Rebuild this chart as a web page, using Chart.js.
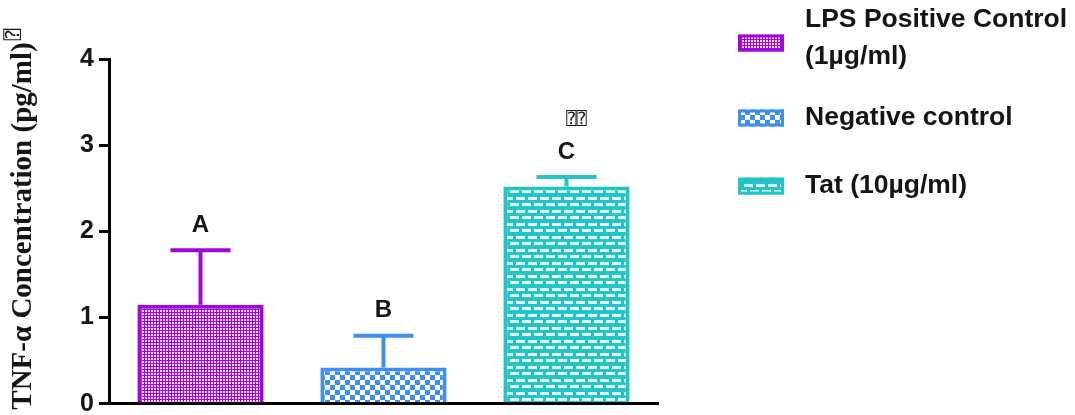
<!DOCTYPE html>
<html>
<head>
<meta charset="utf-8">
<script src="https://cdn.jsdelivr.net/npm/chart.js@4.4.1/dist/chart.umd.min.js"></script>
<style>
  html, body { margin: 0; padding: 0; background: #ffffff; }
  #wrap { width: 1075px; height: 415px; }
</style>
</head>
<body>
<div id="wrap"><canvas id="c" width="1075" height="415"></canvas></div>
<script>
// Groups and measured TNF-α levels (mean with upward SD bar)
const categories = ['LPS Positive Control (1µg/ml)', 'Negative control', 'Tat (10µg/ml)'];
const legendLines = [['LPS Positive Control', '(1µg/ml)'], ['Negative control'], ['Tat (10µg/ml)']];
const means = [1.15, 0.42, 2.52];
const sdUp = [0.63, 0.37, 0.11];
const groupLetters = ['A', 'B', 'C'];
const yTicks = [0, 1, 2, 3, 4];
const yTitle = 'TNF-α Concentration (pg/ml)';
const missingMark = '\u2370';

const colors = ['#9e08de', '#3f8ef0', '#22c4c4'];

// Fill textures for each group
function makePattern(kind, color) {
  const t = document.createElement('canvas');
  const g = t.getContext('2d');
  if (kind === 'dots') {
    t.width = 3; t.height = 3;
    g.fillStyle = color; g.fillRect(0, 0, 3, 3);
    g.fillStyle = '#f4d6ff'; g.fillRect(1, 1, 2, 2);
  } else if (kind === 'checker') {
    t.width = 10; t.height = 10;
    g.fillStyle = color; g.fillRect(0, 0, 10, 10);
    g.fillStyle = '#ffffff';
    g.fillRect(0, 0, 5, 5); g.fillRect(5, 5, 5, 5);
  } else {
    t.width = 12; t.height = 13;
    g.fillStyle = color; g.fillRect(0, 0, 12, 13);
    g.fillStyle = '#e6ffff';
    g.fillRect(0, 2, 9, 3);
    g.fillRect(6, 8, 6, 3); g.fillRect(0, 8, 3, 3);
  }
  return document.getElementById('c').getContext('2d').createPattern(t, 'repeat');
}
const fills = [makePattern('dots', colors[0]), makePattern('checker', colors[1]), makePattern('bricks', colors[2])];

const ink = '#151515';

const decorations = {
  id: 'decorations',
  afterDatasetsDraw(chart) {
    const ctx = chart.ctx;
    const y = chart.scales.y;
    const meta = chart.getDatasetMeta(0);
    ctx.save();
    meta.data.forEach((bar, i) => {
      const top = y.getPixelForValue(means[i]);
      const cap = y.getPixelForValue(means[i] + sdUp[i]);
      ctx.strokeStyle = colors[i];
      ctx.lineWidth = 4;
      ctx.beginPath();
      ctx.moveTo(bar.x, top);
      ctx.lineTo(bar.x, cap);
      ctx.moveTo(bar.x - 30, cap);
      ctx.lineTo(bar.x + 30, cap);
      ctx.stroke();
      ctx.fillStyle = ink;
      ctx.font = 'bold 24px "Liberation Sans", Arial, sans-serif';
      ctx.textAlign = 'center';
      ctx.textBaseline = 'middle';
      ctx.fillText(groupLetters[i], bar.x, cap - 25);
      if (i === 2) {
        ctx.font = '17px "DejaVu Sans Mono", "DejaVu Sans", sans-serif';
        ctx.fillText(missingMark + missingMark, bar.x + 10, cap - 57);
      }
    });
    ctx.restore();
  },
  afterDraw(chart) {
    const ctx = chart.ctx;
    ctx.save();
    // y axis title
    ctx.translate(22, 216);
    ctx.rotate(-Math.PI / 2);
    ctx.fillStyle = ink;
    ctx.font = 'bold 29px "Liberation Serif", "Times New Roman", serif';
    ctx.textBaseline = 'middle';
    ctx.textAlign = 'center';
    const w = ctx.measureText(yTitle).width;
    ctx.fillText(yTitle, -10, 2);
    ctx.font = '19px "DejaVu Sans Mono", "DejaVu Sans", sans-serif';
    ctx.textAlign = 'left';
    ctx.fillText(missingMark, -10 + w / 2 + 2, -8);
    ctx.restore();

    // legend
    ctx.save();
    const boxX = 738, boxW = 46, boxH = 17, textX = 805, lineH = 37;
    const boxCenters = [43, 118, 186];
    ctx.font = 'bold 26.5px "Liberation Sans", Arial, sans-serif';
    ctx.textBaseline = 'middle';
    ctx.textAlign = 'left';
    legendLines.forEach((lines, i) => {
      const cy = boxCenters[i];
      ctx.fillStyle = fills[i];
      ctx.fillRect(boxX, cy - boxH / 2, boxW, boxH);
      ctx.strokeStyle = colors[i];
      ctx.lineWidth = 3;
      ctx.strokeRect(boxX + 1.5, cy - boxH / 2 + 1.5, boxW - 3, boxH - 3);
      ctx.fillStyle = ink;
      const first = cy - (lines.length - 1) * lineH / 2;
      lines.forEach((ln, k) => ctx.fillText(ln, textX, first + k * lineH - (lines.length > 1 ? 5 : 0)));
    });
    ctx.restore();
  }
};

new Chart(document.getElementById('c'), {
  type: 'bar',
  data: {
    labels: categories,
    datasets: [{
      data: means,
      backgroundColor: fills,
      borderColor: colors,
      borderWidth: 4,
      borderSkipped: 'start',
      barPercentage: 0.69,
      categoryPercentage: 1.0
    }]
  },
  options: {
    responsive: false,
    animation: false,
    layout: { padding: { left: 0, right: 417, top: 59, bottom: 0 } },
    plugins: { legend: { display: false }, tooltip: { enabled: false } },
    scales: {
      x: {
        ticks: { display: false },
        grid: { display: false },
        border: { color: '#000', width: 3 },
        afterFit(s) { s.height = 8; }
      },
      y: {
        min: 0,
        max: 4,
        afterBuildTicks(s) { s.ticks = yTicks.map(v => ({ value: v })); },
        ticks: {
          color: ink,
          padding: 5,
          font: { family: '"Liberation Sans", Arial, sans-serif', size: 25, weight: 'bold', lineHeight: 0.5 }
        },
        grid: { drawOnChartArea: false, drawTicks: true, tickLength: 10, color: '#000', lineWidth: 3 },
        border: { color: '#000', width: 3 },
        afterFit(s) { s.width = 109; }
      }
    }
  },
  plugins: [decorations]
});
</script>
</body>
</html>
